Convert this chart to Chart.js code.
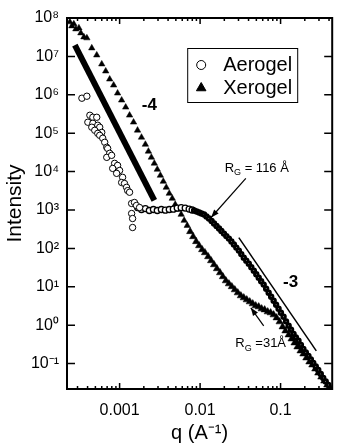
<!DOCTYPE html>
<html>
<head>
<meta charset="utf-8">
<script src="https://cdn.jsdelivr.net/npm/chart.js@4.4.1/dist/chart.umd.min.js"></script>
<style>
  html, body { margin: 0; padding: 0; background: #fff; }
  #wrap { width: 339px; height: 445px; }
</style>
</head>
<body>
<div id="wrap"><canvas id="c"></canvas></div>
<script>
// Aerogel, low q scatter (q in 1/A, intensity in counts)
const aeroLowQ = [3.40e-4, 3.92e-4, 4.27e-4, 4.65e-4, 5.20e-4, 4.03e-4, 4.65e-4, 5.35e-4, 4.51e-4, 5.66e-4,
  4.91e-4, 6.00e-4, 5.35e-4, 5.66e-4, 6.17e-4, 6.53e-4, 6.92e-4, 7.11e-4, 7.53e-4, 6.92e-4,
  7.96e-4, 8.67e-4, 9.44e-4, 8.20e-4, 1.00e-3, 9.18e-4, 1.09e-3, 1.06e-3, 1.15e-3, 1.22e-3,
  1.26e-3, 1.33e-3, 1.41e-3, 1.53e-3, 1.62e-3, 1.41e-3, 1.45e-3, 1.45e-3, 1.77e-3];
const aeroLowI = [8.15e5, 9.18e5, 2.93e5, 2.60e5, 2.60e5, 1.93e5, 1.81e5, 1.61e5, 1.43e5, 1.43e5,
  1.19e5, 1.05e5, 9.9e4, 8.8e4, 7.4e4, 5.8e4, 4.3e4, 4.0e4, 3.0e4, 2.35e4,
  2.65e4, 1.64e4, 1.45e4, 1.21e4, 1.07e4, 9.0e3, 7.1e3, 5.2e3, 4.9e3, 3.9e3,
  3.2e3, 2.9e3, 1.48e3, 1.57e3, 1.31e3, 810, 600, 350, 1.16e3];

// Aerogel, plateau and fall-off
const aeroQ = [1.67e-3, 1.87e-3, 2.09e-3, 2.34e-3, 2.63e-3, 2.94e-3, 3.30e-3, 3.70e-3, 4.14e-3, 4.65e-3,
  5.20e-3, 5.82e-3, 6.53e-3, 7.31e-3, 7.96e-3,
  8.43e-3, 9.06e-3, 9.73e-3, 1.04e-2, 1.12e-2, 1.20e-2, 1.29e-2, 1.39e-2, 1.49e-2, 1.60e-2,
  1.72e-2, 1.84e-2, 1.98e-2, 2.12e-2, 2.28e-2, 2.45e-2, 2.63e-2, 2.82e-2, 3.03e-2, 3.25e-2,
  3.49e-2, 3.75e-2, 4.03e-2, 4.33e-2, 4.65e-2, 4.99e-2, 5.35e-2, 5.74e-2, 6.17e-2, 6.62e-2,
  7.11e-2, 7.64e-2, 8.20e-2, 8.80e-2, 9.44e-2, 0.101, 0.109, 0.117, 0.126, 0.135,
  0.145, 0.155, 0.167, 0.179, 0.192, 0.206, 0.222, 0.238, 0.255, 0.274,
  0.294, 0.316, 0.339, 0.364, 0.392];
const aeroI = [1.16e3, 1.03e3, 1.09e3, 970, 1.03e3, 970, 1.03e3, 990, 1.03e3, 1.05e3,
  1.12e3, 1.15e3, 1.12e3, 1.06e3, 1.0e3,
  971, 914, 861, 811, 764, 676, 600, 516, 445, 382,
  329, 283, 243, 209, 180, 151, 126, 105, 87.7, 71.0,
  57.5, 48.0, 40.1, 32.5, 26.3, 21.3, 17.3, 14.0, 11.4, 8.92,
  7.01, 5.52, 4.34, 3.41, 2.68, 2.11, 1.66, 1.26, 0.964, 0.758,
  0.596, 0.483, 0.392, 0.308, 0.242, 0.196, 0.159, 0.129, 0.104, 0.0845,
  0.0685, 0.0538, 0.0424, 0.0343, 0.0278];

// Xerogel
const xeroQ = [2.41e-4, 2.55e-4, 2.70e-4, 2.86e-4, 3.12e-4, 3.30e-4, 3.60e-4, 3.92e-4, 4.51e-4, 5.20e-4,
  6.00e-4, 6.72e-4, 7.53e-4, 8.43e-4, 9.44e-4, 1.06e-3, 1.19e-3, 1.33e-3, 1.49e-3, 1.67e-3,
  1.87e-3, 2.09e-3, 2.28e-3, 2.48e-3, 2.70e-3, 2.94e-3, 3.21e-3, 3.49e-3, 3.80e-3, 4.14e-3,
  4.51e-3, 4.91e-3, 5.35e-3, 5.82e-3, 6.34e-3, 6.92e-3, 7.53e-3, 8.20e-3, 8.93e-3, 9.73e-3,
  1.06e-2, 1.15e-2, 1.26e-2, 1.37e-2, 1.49e-2, 1.62e-2, 1.77e-2, 1.92e-2, 2.09e-2, 2.28e-2,
  2.48e-2, 2.70e-2, 2.94e-2, 3.21e-2, 3.49e-2, 3.80e-2, 4.14e-2, 4.51e-2, 4.91e-2, 5.35e-2,
  5.82e-2, 6.34e-2, 6.92e-2, 7.53e-2, 8.20e-2, 8.93e-2, 9.73e-2, 0.106, 0.115, 0.126,
  0.137, 0.149, 0.162, 0.177, 0.192, 0.209, 0.228, 0.248, 0.270, 0.294,
  0.321, 0.349, 0.380, 0.414];
const xeroI = [7.87e7, 6.18e7, 6.97e7, 5.16e7, 5.48e7, 4.06e7, 3.19e7, 3.01e7, 1.65e7, 1.08e7,
  6.30e6, 4.13e6, 2.55e6, 1.78e6, 1.10e6, 7.23e5, 4.74e5, 2.93e5, 1.93e5, 1.19e5,
  7.8e4, 5.1e4, 3.37e4, 2.35e4, 1.64e4, 1.14e4, 7.96e3, 5.55e3, 3.87e3, 2.70e3,
  2.0e3, 1.39e3, 1.03e3, 764, 532, 394, 275, 203, 151, 118,
  93, 77.6, 61, 48, 37.8, 29.7, 23.3, 18.4, 14.4, 12.0,
  10.1, 8.4, 7.0, 5.86, 5.19, 4.60, 4.08, 3.62, 3.21, 3.02,
  2.68, 2.52, 2.24, 2.11, 1.87, 1.56, 1.23, 0.908, 0.714, 0.561,
  0.441, 0.347, 0.273, 0.215, 0.179, 0.141, 0.111, 0.0925, 0.0727, 0.0571,
  0.0449, 0.0353, 0.0278, 0.0232];

// power law guide lines
const slope4Q = [2.78e-4, 2.70e-3];
const slope4I = [1.97e7, 1.77e3];
const slope3Q = [0.0303, 0.278];
const slope3I = [191, 0.215];

const qTicks = [0.001, 0.01, 0.1];
const iTicks = [0.1, 1, 10, 100, 1e3, 1e4, 1e5, 1e6, 1e7, 1e8];

const FONT = '"Liberation Sans", Arial, Helvetica, sans-serif';
const SUP = { '0': '⁰', '1': '¹', '2': '²', '3': '³', '4': '⁴', '5': '⁵', '6': '⁶', '7': '⁷', '8': '⁸', '9': '⁹', '-': '⁻' };
const sup = n => String(n).split('').map(ch => SUP[ch]).join('');
const pts = (qs, is) => qs.map((q, i) => ({ x: q, y: is[i] }));

function arrow(ctx, x0, y0, x1, y1) {
  const ang = Math.atan2(y1 - y0, x1 - x0);
  ctx.beginPath(); ctx.moveTo(x0, y0); ctx.lineTo(x1, y1); ctx.stroke();
  ctx.beginPath();
  ctx.moveTo(x1, y1);
  ctx.lineTo(x1 - 8 * Math.cos(ang) + 3 * Math.sin(ang), y1 - 8 * Math.sin(ang) - 3 * Math.cos(ang));
  ctx.lineTo(x1 - 8 * Math.cos(ang) - 3 * Math.sin(ang), y1 - 8 * Math.sin(ang) + 3 * Math.cos(ang));
  ctx.closePath(); ctx.fill();
}

// R with subscript G followed by tail text, centred on cx, cy
function rgLabel(ctx, cx, cy, tail, size) {
  const big = size + 'px ' + FONT, small = Math.round(size * 0.72) + 'px ' + FONT;
  ctx.font = big;
  const wR = ctx.measureText('R').width, wT = ctx.measureText(tail).width;
  ctx.font = small;
  const wG = ctx.measureText('G').width;
  const x0 = cx - (wR + wG + wT) / 2;
  ctx.textAlign = 'left'; ctx.textBaseline = 'middle';
  ctx.font = big; ctx.fillText('R', x0, cy);
  ctx.font = small; ctx.fillText('G', x0 + wR, cy + size * 0.35);
  ctx.font = big; ctx.fillText(tail, x0 + wR + wG, cy);
}

const decor = {
  id: 'decor',
  afterDatasetsDraw(chart) {
    const { ctx, chartArea: a, scales: { x, y } } = chart;
    ctx.save();
    ctx.strokeStyle = '#000'; ctx.fillStyle = '#000';
    ctx.lineWidth = 1.5;
    // inward ticks, x on bottom and top
    for (let e = -4; e <= 0; e++) {
      for (let m = 1; m < 10; m++) {
        const v = m * Math.pow(10, e);
        if (v < x.min || v > x.max) continue;
        const px = x.getPixelForValue(v);
        const len = m === 1 ? 6 : 3;
        ctx.beginPath();
        ctx.moveTo(px, a.bottom); ctx.lineTo(px, a.bottom - len);
        ctx.moveTo(px, a.top); ctx.lineTo(px, a.top + len);
        ctx.stroke();
      }
    }
    iTicks.forEach(v => {
      const py = y.getPixelForValue(v);
      ctx.beginPath();
      ctx.moveTo(a.left, py); ctx.lineTo(a.left + 8, py);
      ctx.moveTo(a.right, py); ctx.lineTo(a.right - 8, py);
      ctx.stroke();
    });
    ctx.lineWidth = 2;
    ctx.strokeRect(a.left, a.top, a.right - a.left, a.bottom - a.top);

    // slope labels
    ctx.font = 'bold 17px ' + FONT;
    ctx.textAlign = 'center'; ctx.textBaseline = 'middle';
    ctx.fillText('-4', x.getPixelForValue(2.34e-3), y.getPixelForValue(5.35e5));
    ctx.fillText('-3', x.getPixelForValue(0.133), y.getPixelForValue(12.8));

    // radius of gyration notes
    rgLabel(ctx, x.getPixelForValue(0.0506), y.getPixelForValue(1.21e4), ' = 116 Å', 13);
    rgLabel(ctx, x.getPixelForValue(0.0566), y.getPixelForValue(0.327), ' =31Å', 13);
    ctx.lineWidth = 1.2;
    arrow(ctx, x.getPixelForValue(0.0370), y.getPixelForValue(6.64e3), x.getPixelForValue(0.0137), y.getPixelForValue(637));
    arrow(ctx, x.getPixelForValue(0.0617), y.getPixelForValue(0.964), x.getPixelForValue(0.0427), y.getPixelForValue(2.84));

    // legend
    const bx = a.right - 145, by = a.top + 30, bw = 110, bh = 54;
    ctx.fillStyle = '#fff'; ctx.fillRect(bx, by, bw, bh);
    ctx.lineWidth = 1; ctx.strokeStyle = '#000';
    ctx.strokeRect(bx + 0.5, by + 0.5, bw, bh);
    ctx.fillStyle = '#fff';
    Chart.helpers.drawPoint(ctx, { pointStyle: 'circle', radius: 4.5, borderWidth: 1 }, bx + 14, by + 17);
    ctx.fillStyle = '#000';
    Chart.helpers.drawPoint(ctx, { pointStyle: 'triangle', radius: 5.5, borderWidth: 1 }, bx + 14, by + 40);
    ctx.font = '20px ' + FONT;
    ctx.textAlign = 'left'; ctx.textBaseline = 'middle';
    ctx.fillText('Aerogel', bx + 36, by + 17);
    ctx.fillText('Xerogel', bx + 36, by + 40);
    ctx.restore();
  }
};

// the fall-off part is so dense that the circles merge into a dark band
const denseAero = c => c.raw && c.raw.x > 8e-3;

new Chart(document.getElementById('c'), {
  type: 'scatter',
  data: {
    datasets: [
      { label: 'Aerogel', data: pts(aeroLowQ, aeroLowI), pointStyle: 'circle', pointRadius: 3.2,
        pointBorderWidth: 1, pointBackgroundColor: '#fff', pointBorderColor: '#000' },
      { label: 'Aerogel', data: pts(aeroQ, aeroI), pointStyle: 'circle',
        pointRadius: c => denseAero(c) ? 1.8 : 3,
        pointBorderWidth: c => denseAero(c) ? 2.8 : 1.3,
        pointBackgroundColor: '#fff', pointBorderColor: '#000' },
      { label: 'Xerogel', data: pts(xeroQ, xeroI), pointStyle: 'triangle',
        pointRadius: c => (c.raw && c.raw.x > 7e-3) ? 4.2 : 3.7,
        pointBorderWidth: 0.5, pointBackgroundColor: '#000', pointBorderColor: '#000' },
      { label: 'slope -4', data: pts(slope4Q, slope4I), showLine: true, borderColor: '#000',
        borderWidth: 6, pointRadius: 0, borderCapStyle: 'butt' },
      { label: 'slope -3', data: pts(slope3Q, slope3I), showLine: true, borderColor: '#000',
        borderWidth: 1.5, pointRadius: 0 }
    ]
  },
  options: {
    responsive: true,
    maintainAspectRatio: false,
    animation: false,
    layout: { padding: { top: 18, right: 5, left: 0, bottom: 0 } },
    plugins: { legend: { display: false }, tooltip: { enabled: false } },
    scales: {
      x: {
        type: 'logarithmic', min: 2.22e-4, max: 0.438,
        afterBuildTicks: s => { s.ticks = qTicks.map(v => ({ value: v })); },
        afterFit: s => { s.height = 56; },
        grid: { display: false, drawTicks: false },
        border: { display: false },
        ticks: { callback: v => String(v), color: '#000', font: { size: 16, family: FONT },
          padding: 12, maxRotation: 0, autoSkip: false },
        title: { display: true, text: 'q (A⁻¹)', color: '#000', font: { size: 20, family: FONT },
          padding: { top: 0, bottom: 0 } }
      },
      y: {
        type: 'logarithmic', min: 0.0218, max: 1e8,
        afterBuildTicks: s => { s.ticks = iTicks.map(v => ({ value: v })); },
        afterFit: s => { s.width = 67; },
        grid: { display: false, drawTicks: false },
        border: { display: false },
        ticks: { callback: v => '10' + sup(Math.round(Math.log10(v))), color: '#000',
          font: { size: 16, family: FONT }, padding: 8, autoSkip: false },
        title: { display: true, text: 'Intensity', color: '#000', font: { size: 21, family: FONT },
          padding: { top: 3, bottom: 0 } }
      }
    }
  },
  plugins: [decor]
});
</script>
</body>
</html>
